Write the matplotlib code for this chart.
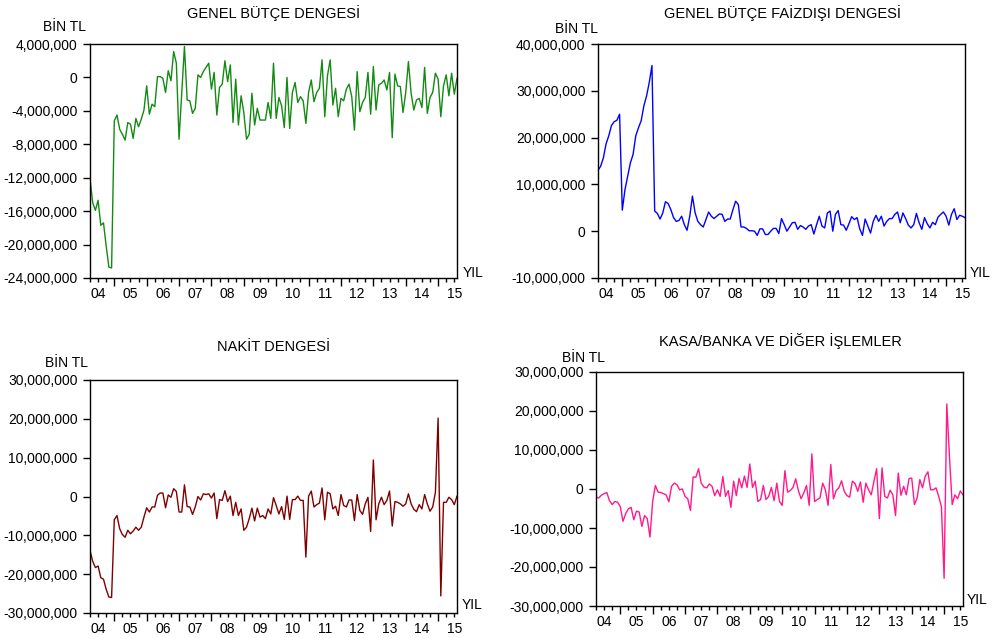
import numpy as np
import matplotlib
matplotlib.use('Agg')
import matplotlib.pyplot as plt
from matplotlib.ticker import FuncFormatter, FixedLocator

plt.rcParams['font.family'] = ['Liberation Sans', 'DejaVu Sans']

# monthly data, 2004M04 - 2015M08, million (BİN TL units x 1e6)
genel_butce = [
    -12.1, -15.0, -15.9, -14.7, -17.7, -17.4, -20.2, -22.7, -22.8,
    -5.2, -4.5, -6.2, -6.8, -7.5, -5.4, -5.6, -7.3, -4.9, -5.9, -5.0, -3.9,
    -1.0, -4.4, -3.2, -3.5, 0.1, 0.1, -0.1, -1.8, 0.8, -0.4, 3.1, 1.7,
    -7.4, -1.8, 3.7, -2.7, -2.8, -4.3, -3.7, 0.3, 0.0, 0.7, 1.2, 1.7,
    -1.4, 0.6, -4.5, -1.2, -0.8, 2.0, -0.5, 1.5, -5.4, -0.2, -5.7, -2.2,
    -4.2, -7.4, -6.8, -1.9, -5.7, -3.7, -5.1, -5.1, -5.1, -3.0, -4.9, 1.7,
    -4.9, -2.4, -3.4, -6.0, 0.0, -6.1, -1.8, -0.6, -3.0, -2.3, -2.8, -5.5,
    -1.8, -0.3, -2.9, -1.8, -1.3, 2.1, -4.7, 0.2, 2.1, -3.3, -1.3, -4.7,
    -2.5, -2.8, -1.4, -0.8, -2.3, -6.3, 0.7, -4.1, -3.0, -2.4, 0.6, -4.4,
    1.3, -3.9, -0.9, -0.7, -0.3, -1.5, 0.6, -7.2, 0.4, -1.0, -1.1, -4.2,
    -1.8, 1.9, -1.9, -3.9, -2.7, -2.5, -3.6, 1.2, -4.3, -2.4, -1.8, 0.5,
    -0.2, -4.7, -1.0, 0.3, -2.2, 0.5, -2.0, -0.1,
]
faizdisi = [
    13.0, 13.9, 15.7, 18.7, 20.4, 22.6, 23.4, 23.7, 25.0,
    4.5, 8.9, 11.8, 14.6, 16.4, 20.4, 22.1, 23.6, 26.8, 28.9, 31.8, 35.4,
    4.3, 3.8, 2.6, 3.9, 6.3, 5.9, 4.6, 2.9, 2.1, 2.3, 3.2, 1.4,
    0.2, 3.2, 7.5, 3.9, 2.1, 1.4, 0.9, 2.5, 4.1, 3.2, 2.7, 3.2,
    3.7, 3.6, 2.1, 2.6, 2.6, 4.6, 6.4, 5.7, 0.9, 0.9, 0.6, 0.1,
    0.1, 0.0, -0.9, 0.5, 0.5, -0.7, -0.7, 0.0, 0.6, 0.6, -0.5, 2.7,
    1.4, 0.0, 0.9, 1.8, 1.9, 0.4, 1.2, 0.9, 0.4, 1.1, 1.4, -0.6,
    1.4, 3.2, 1.1, 0.7, 3.9, 4.3, 0.0, 3.6, 4.4, 1.4, 1.3, 0.2,
    1.6, 3.1, 2.5, 2.9, 0.5, -0.9, 2.6, 1.1, -0.4, 2.1, 3.4, 2.1,
    3.2, 1.1, 2.1, 2.7, 2.7, 3.6, 4.1, 1.8, 3.9, 2.7, 1.3, 0.7,
    1.4, 3.8, 1.8, 0.4, 2.9, 1.6, 0.7, 1.9, 1.4, 3.0, 3.6, 4.1,
    3.2, 1.3, 3.6, 4.8, 2.5, 3.4, 3.2, 2.9,
]
nakit = [
    -13.9, -16.7, -18.3, -17.9, -20.9, -21.3, -23.9, -25.9, -26.0,
    -6.0, -4.9, -8.3, -9.8, -10.5, -8.7, -9.6, -8.9, -7.9, -8.7, -7.9, -5.3,
    -2.9, -4.0, -2.7, -2.7, 0.3, 0.9, 0.9, -2.9, 0.4, -0.2, 2.0, 1.3,
    -4.0, -4.0, 3.0, -2.6, -2.7, -4.6, -2.7, 0.0, -0.9, 0.7, 0.5, 0.7,
    -0.4, 0.9, -5.7, -0.8, -1.0, 1.5, -1.3, 0.1, -4.9, -1.5, -4.9, -3.2,
    -8.7, -7.9, -5.7, -3.0, -6.3, -3.0, -5.3, -4.9, -5.7, -3.2, -4.5, -0.3,
    -2.3, -4.5, -2.6, -5.9, 0.1, -5.9, -0.8, -0.8, 0.1, -1.0, -1.0, -15.6,
    0.1, 1.4, -2.7, -2.1, -1.7, 2.2, -6.0, 1.1, 0.7, -3.2, -2.5, -4.9,
    0.5, -2.3, -2.7, -0.9, -0.9, -6.2, 0.5, -3.6, -4.6, -1.9, -0.2, -9.0,
    9.4, -6.0, -1.9, -0.2, -2.1, -1.0, 1.4, -7.6, -1.3, -1.5, -1.9, -2.5,
    -1.9, 0.7, -1.9, -3.3, -3.9, -2.1, -3.2, 0.5, -1.9, -3.8, -2.7, 1.1,
    20.2, -25.6, -1.5, -1.5, -0.2, -0.8, -2.1, 0.1,
]
kasa_banka = [
    -2.1, -2.3, -1.6, -1.2, -0.9, -3.0, -4.0, -3.2, -3.4,
    -4.5, -8.3, -6.3, -5.1, -4.7, -7.9, -5.7, -5.9, -9.6, -6.8, -7.6, -12.3,
    -3.2, 0.9, -0.8, -0.9, -1.2, -1.5, -3.3, 0.7, 1.5, 1.1, -0.2, 0.0,
    -1.9, -2.5, -5.5, 3.1, 3.0, 5.2, 1.5, 0.5, 0.3, 1.3, 0.7, -1.7,
    -0.2, -1.9, 3.2, -1.9, -0.4, -4.7, 2.0, -1.7, 2.7, 0.3, 3.3, 0.4,
    6.4, 0.4, 2.0, -3.2, -2.7, 0.9, -2.7, -1.9, 0.4, -3.0, 1.5, -3.2,
    -4.2, 4.7, -0.8, -0.4, 0.4, 2.6, -0.4, -2.5, -1.0, 0.9, -4.2, 9.0,
    -3.2, -2.7, -2.3, 1.5, -0.2, -4.2, 6.3, -2.5, -0.4, 0.3, 2.1, -0.6,
    -1.7, -2.1, 2.0, 1.4, -0.6, 1.8, -3.4, 1.5, -0.2, -1.5, 2.0, 5.2,
    -7.6, 5.4, -1.9, -2.3, -0.3, -1.5, -6.8, 4.1, -1.6, 0.7, -1.5, 2.7,
    2.8, -4.0, -2.3, 2.4, 0.3, 3.3, 4.4, -0.2, -0.2, 0.3, -1.9, -4.5,
    -22.9, 21.8, 8.0, -4.0, -1.5, -2.5, -0.5, -1.5,
]

year_labels = ['04', '05', '06', '07', '08', '09', '10', '11', '12', '13', '14', '15']
start_month = 3  # April 2004, zero based month of year

W, H = 994, 638
fig = plt.figure(figsize=(W / 100, H / 100), dpi=100)
fig.patch.set_facecolor('white')

panels = [
    # series, color, title, ylim, ystep, box(l,t,r,b), title xy, bin xy, yil xy
    (genel_butce, '#138a13', 'GENEL BÜTÇE DENGESİ', (-24e6, 4e6), 4e6,
     (90, 44, 457, 278), (274, 13), (43, 27), (463, 273)),
    (faizdisi, '#0000ff', 'GENEL BÜTÇE FAİZDIŞI DENGESİ', (-10e6, 40e6), 10e6,
     (598, 44, 965, 278), (783, 13), (555, 29), (970, 273)),
    (nakit, '#800000', 'NAKİT DENGESİ', (-30e6, 30e6), 10e6,
     (90, 380, 457, 613), (274, 347), (45, 363), (462, 605)),
    (kasa_banka, '#ff1a8c', 'KASA/BANKA VE DİĞER İŞLEMLER', (-30e6, 30e6), 10e6,
     (596, 372, 963, 606), (780, 341), (562, 358), (967, 600)),
]

fmt = FuncFormatter(lambda v, p: f'{int(round(v)):,}')

for series, color, title, ylim, ystep, box, txy, bxy, yxy in panels:
    l, t, r, b = box
    ax = fig.add_axes([l / W, 1 - b / H, (r - l) / W, (b - t) / H])
    vals = np.array(series) * 1e6
    x = np.arange(len(vals))
    ax.plot(x, vals, color=color, linewidth=1.0)
    ax.set_xlim(0, len(vals) - 1)
    ax.set_ylim(*ylim)

    months = np.arange(len(vals)) + start_month
    major = x[months % 12 == 0]
    minor = x[months % 3 == 0]
    ax.xaxis.set_major_locator(FixedLocator(major))
    ax.xaxis.set_minor_locator(FixedLocator(minor))
    ax.set_xticklabels([])
    ax.tick_params(axis='x', which='major', direction='out', length=6, width=1)
    ax.tick_params(axis='x', which='minor', direction='out', length=3, width=1)
    mids = x[months % 12 == 6]
    for pos, lbl in zip(mids, year_labels):
        ax.annotate(lbl, xy=(pos, 0), xycoords=('data', 'axes fraction'),
                    xytext=(0, -6.5), textcoords='offset points',
                    ha='center', va='top', fontsize=10)

    ax.set_yticks(np.arange(ylim[0], ylim[1] + 1, ystep))
    ax.yaxis.set_major_formatter(fmt)
    ax.tick_params(axis='y', direction='out', length=5, width=1, labelsize=10, pad=4)
    for s in ax.spines.values():
        s.set_linewidth(1.0)

    fig.text(txy[0] / W, 1 - txy[1] / H, title, ha='center', va='center', fontsize=10.5)
    fig.text(bxy[0] / W, 1 - bxy[1] / H, 'BİN TL', ha='left', va='center', fontsize=10)
    fig.text(yxy[0] / W, 1 - yxy[1] / H, 'YIL', ha='left', va='center', fontsize=10)

fig.savefig('out.png', dpi=100)
